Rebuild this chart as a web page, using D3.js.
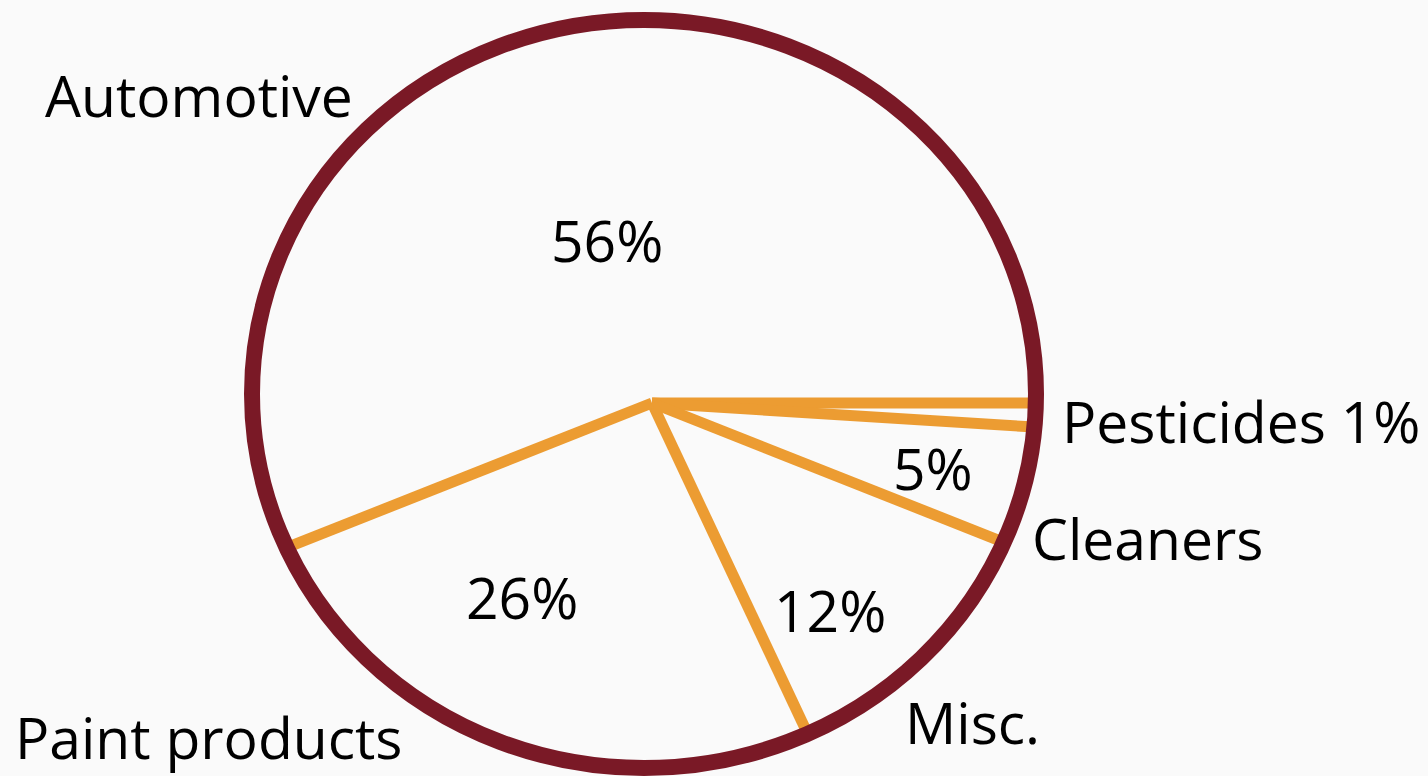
<!DOCTYPE html>
<html>
<head>
<meta charset="utf-8">
<script src="https://cdn.jsdelivr.net/npm/d3@7"></script>
<style>
  html, body { margin: 0; padding: 0; background: #fafafa; }
  svg { display: block; }
  text { font-family: "Open Sans", "Noto Sans", sans-serif; fill: #000; }
</style>
</head>
<body>
<svg id="chart" width="1428" height="776"></svg>
<script>
// Household hazardous waste sources, share of total (%)
const categories = ["Pesticides", "Cleaners", "Misc.", "Paint products", "Automotive"];
const shares = [1, 5, 12, 26, 56];
const shareLabels = ["1%", "5%", "12%", "26%", "56%"];

// Label placement (baseline-left anchor points)
const namePos = {
  "Pesticides": [1062, 443],
  "Cleaners": [1032, 560],
  "Misc.": [905, 744],
  "Paint products": [15, 759],
  "Automotive": [45, 117]
};
const pctPos = {
  "5%": [893, 490],
  "12%": [774, 632],
  "26%": [466, 619],
  "56%": [551, 262]
};

const svg = d3.select("#chart");

// Outer ring (slightly elliptical) and the hub the slice dividers radiate from
const ring = { cx: 644, cy: 394, rx: 392, ry: 374 };
const hub = { x: 652, y: 403 };

const pie = d3.pie().sort(null)
  .startAngle(Math.PI / 2)
  .endAngle(Math.PI / 2 + 2 * Math.PI);
const arcs = pie(shares);

// Where a ray from the hub at pie angle a meets the ring
function rimPoint(a) {
  const dx = Math.sin(a), dy = -Math.cos(a);
  const ox = (hub.x - ring.cx) / ring.rx, oy = (hub.y - ring.cy) / ring.ry;
  const ux = dx / ring.rx, uy = dy / ring.ry;
  const A = ux * ux + uy * uy;
  const B = 2 * (ox * ux + oy * uy);
  const C = ox * ox + oy * oy - 1;
  const t = (-B + Math.sqrt(B * B - 4 * A * C)) / (2 * A);
  return [hub.x + t * dx, hub.y + t * dy];
}

// Slice dividers
svg.append("g").selectAll("line")
  .data(arcs)
  .join("line")
  .attr("x1", hub.x)
  .attr("y1", hub.y)
  .attr("x2", d => rimPoint(d.startAngle)[0])
  .attr("y2", d => rimPoint(d.startAngle)[1])
  .attr("stroke", "#ec9c32")
  .attr("stroke-width", 11)
  .attr("stroke-linecap", "butt");

// Ring
svg.append("ellipse")
  .attr("cx", ring.cx)
  .attr("cy", ring.cy)
  .attr("rx", ring.rx)
  .attr("ry", ring.ry)
  .attr("fill", "none")
  .attr("stroke", "#7a1926")
  .attr("stroke-width", 16);

// Category names
svg.append("g").selectAll("text")
  .data(categories)
  .join("text")
  .attr("x", d => namePos[d][0])
  .attr("y", d => namePos[d][1])
  .attr("font-size", 57)
  .text((d, i) => d === "Pesticides" ? d + " " + shareLabels[i] : d);

// Percentages inside the ring
svg.append("g").selectAll("text")
  .data(shareLabels.filter(s => pctPos[s]))
  .join("text")
  .attr("x", d => pctPos[d][0])
  .attr("y", d => pctPos[d][1])
  .attr("font-size", 57)
  .text(d => d);
</script>
</body>
</html>
